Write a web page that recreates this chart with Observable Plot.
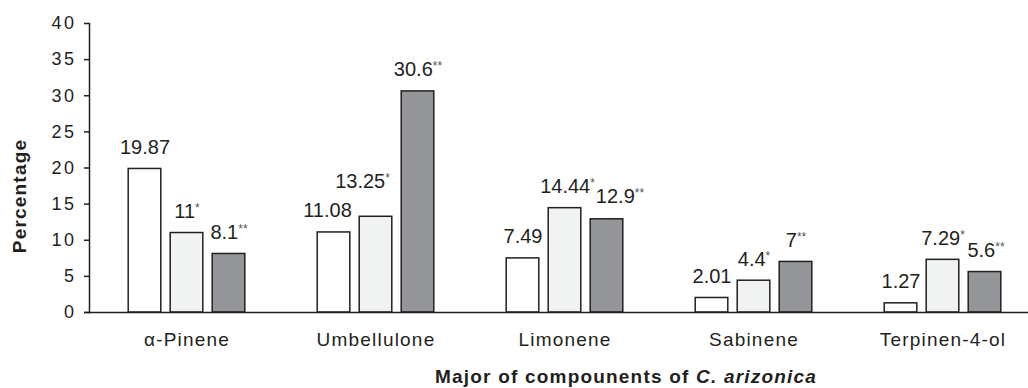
<!DOCTYPE html>
<html><head><meta charset="utf-8">
<script src="https://cdn.jsdelivr.net/npm/d3@7"></script>
<script src="https://cdn.jsdelivr.net/npm/@observablehq/plot@0.6"></script>
<style>
body{margin:0;background:#fff;font-family:"Liberation Sans",Arial,sans-serif;}
#chart svg{display:block}
g[aria-label="x-axis tick label"] text{letter-spacing:1.2px}
g[aria-label="y-axis tick label"] text{letter-spacing:2.5px}
#xtitle{font-weight:bold;font-size:19px;letter-spacing:1.2px;line-height:22px;margin-top:10px;padding-left:435px;color:#231f20;white-space:nowrap}
</style></head><body>
<div id="chart"></div>
<div id="xtitle">Major of compounents of <i>C. arizonica</i></div>
<script>
const compounds = ["α-Pinene", "Umbellulone", "Limonene", "Sabinene", "Terpinen-4-ol"];
const series1 = [19.87, 11.08, 7.49, 2.01, 1.27];
const series2 = [11, 13.25, 14.44, 4.4, 7.29];
const series3 = [8.1, 30.6, 12.9, 7, 5.6];
const significance = ["", "*", "**"];
const yTicks = [0, 5, 10, 15, 20, 25, 30, 35, 40];

// layout / style settings (not data)
const seriesValues = [series1, series2, series3];
const fills = ["#ffffff", "#f1f2f2", "#939598"];
const ink = "#231f20";
const offsets = [-42, 0, 42];
const labelNudge = {"1-0": [-6.5, 0], "1-1": [-13.5, -14], "2-1": [2.5, 0], "2-2": [13, -1], "4-2": [1, 0]};

const rows = seriesValues.map((vals, s) =>
  compounds.map((c, i) => ({compound: c, series: s, i, value: vals[i], label: String(vals[i]) + significance[s]})));

const barMarks = rows.map((r, s) => Plot.barY(r, {
  x: "compound", y: "value", fill: fills[s], stroke: ink, strokeWidth: 1.5,
  dx: offsets[s], insetLeft: 78.2, insetRight: 78.2
}));

const labelMarks = rows.flat().map(d => {
  const n = labelNudge[d.i + "-" + d.series] || [0, 0];
  return Plot.text([d], {
    x: "compound", y: "value", text: "label", lineAnchor: "bottom",
    dx: offsets[d.series] + n[0], dy: -15 + n[1], fontSize: 20, fill: ink
  });
});

const svg = Plot.plot({
  width: 1028, height: 356,
  marginLeft: 89, marginRight: 0, marginTop: 23, marginBottom: 44,
  style: {fontFamily: "'Liberation Sans', Arial, sans-serif", color: ink, background: "#fff", overflow: "visible"},
  x: {domain: compounds, range: [91, 1038], padding: 0, label: null},
  y: {domain: [0, 40], label: null},
  marks: [
    ...barMarks,
    Plot.frame({anchor: "left", stroke: ink, strokeWidth: 1.5}),
    Plot.ruleY([0], {insetLeft: -5, stroke: ink, strokeWidth: 1.5}),
    Plot.axisY(yTicks, {tickSize: 5, tickPadding: 8, fontSize: 18, strokeWidth: 1.5, label: null}),
    Plot.axisX({tickSize: 0, tickPadding: 20, fontSize: 19, label: null}),
    ...labelMarks,
    Plot.text(["Percentage"], {text: d => d, frameAnchor: "left", textAnchor: "middle", rotate: -90, dx: -69.5, dy: 28, fontWeight: "bold", fontSize: 19, fill: ink})
  ]
});

svg.querySelectorAll("text").forEach(t => {
  const s = t.textContent;
  const m = s.match(/^(.*?)(\*+)$/);
  if (m) {
    t.textContent = m[1];
    const ts = document.createElementNS("http://www.w3.org/2000/svg", "tspan");
    ts.setAttribute("font-size", "12");
    ts.setAttribute("dy", "-6");
    ts.setAttribute("fill", "#555");
    ts.textContent = m[2];
    t.appendChild(ts);
  }
  if (s === "Percentage") t.style.letterSpacing = "1.2px";
});

document.getElementById("chart").appendChild(svg);
</script>
</body></html>
